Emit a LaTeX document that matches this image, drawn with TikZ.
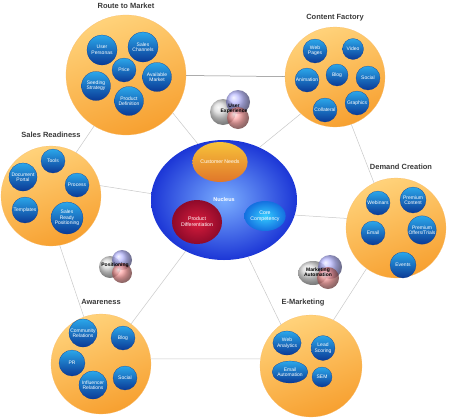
\documentclass[tikz,border=0pt]{standalone}
\usepackage{fontspec}
\setmainfont{Liberation Sans}
\usepackage{tikz}
\usetikzlibrary{positioning,shapes.geometric,shadings}

\definecolor{orangetop}{HTML}{FFD27A}
\definecolor{orangebot}{HTML}{F7A030}
\definecolor{pilltop}{HTML}{2BA7EA}
\definecolor{pillbot}{HTML}{0A3A96}
\definecolor{nucin}{HTML}{7AAEFF}
\definecolor{nucout}{HTML}{1C36D6}
\definecolor{needtop}{HTML}{F7C23A}
\definecolor{needbot}{HTML}{E0762A}
\definecolor{prodin}{HTML}{D81C3C}
\definecolor{prodout}{HTML}{8E0A2A}
\definecolor{corein}{HTML}{34CCFF}
\definecolor{coreout}{HTML}{1470E0}
\definecolor{linkgray}{HTML}{C8C8C8}
\definecolor{titlegray}{HTML}{3A3A3A}
\definecolor{vgray}{HTML}{D0D0D0}
\definecolor{vblue}{HTML}{A8A8FF}
\definecolor{vred}{HTML}{FF9090}

\begin{document}
\begin{tikzpicture}[x=1pt,y=-1pt,
    bubble/.style={circle,draw=orangebot!70,very thin,top color=orangetop,
        bottom color=orangebot,shading angle=20,minimum size=#1,inner sep=0pt},
    pill/.style={circle,draw=pillbot,very thin,top color=pilltop,bottom color=pillbot,
        text=white,minimum size=#1,inner sep=0pt,align=center,
        font=\fontsize{5}{5.4}\selectfont},
    vball/.style={circle,inner sep=0pt,minimum size=#1,fill opacity=0.8}]
        \tikzstyle{title}=[font=\fontsize{7.5}{8}\selectfont\bfseries,text=titlegray,inner sep=1pt]
        \tikzstyle{link}=[draw=linkgray,line width=0.5pt]
        \tikzstyle{core}=[ellipse,inner sep=0pt,text=white,align=center,
            font=\fontsize{5.2}{5.8}\selectfont]
        \tikzstyle{venntext}=[align=center,inner sep=0pt,
            font=\fontsize{5}{5.4}\selectfont\bfseries]

        \useasboundingbox (0,0) rectangle (449,418);

        % outer circles
        \node[bubble=120] (route) at (126,75) {};
        \node[bubble=100] (content) at (335,77) {};
        \node[bubble=100] (sales) at (51,196) {};
        \node[bubble=100] (demand) at (396,228) {};
        \node[bubble=100] (aware) at (101,364) {};
        \node[bubble=102] (emkt) at (311,366) {};
        \node[core,minimum width=146,minimum height=120,inner color=nucin,
            outer color=nucout,font=\fontsize{5.5}{6}\selectfont\bfseries] (nucleus) at (224,200) {Nucleus};

        \node[title,above=5pt of route] (routetitle) {Route to Market};
        \node[title,above=5pt of content] (contenttitle) {Content Factory};
        \node[title,above=7pt of sales] (salestitle) {Sales Readiness};
        \node[title,above=7pt of demand,xshift=5pt] (demandtitle) {Demand Creation};
        \node[title,above=8pt of aware] (awaretitle) {Awareness};
        \node[title,above=8pt of emkt,xshift=-8pt] (emkttitle) {E-Marketing};

        % links
        \path[link,draw=gray] (route) edge (content);
        \path[link] (route.-39) edge (nucleus.115);
        \path[link] (route.238) edge (sales.60);
        \path[link] (content.227) edge (nucleus.56);
        \path[link] (content.-71) edge (demand.116);
        \path[link] (sales.12) edge (nucleus.175);
        \path[link] (sales.-80) edge (aware.110);
        \path[link] (nucleus) edge (aware);
        \path[link] (nucleus.-67) edge (emkt.126);
        \path[link] (nucleus.-12) edge (demand.169);
        \path[link] (demand.234) edge (emkt.64);
        \path[link] (aware.6) edge (emkt.172);

        % nucleus
        \node[core,minimum width=46,minimum height=40,top color=needtop,
            bottom color=needbot] (needs) at (220,162) {Customer Needs};
        \node[core,minimum width=50,minimum height=44,inner color=prodin,
            outer color=prodout] (proddiff) at (197,222) {Product\\Differentiation};
        \node[core,minimum width=40,minimum height=30,inner color=corein,
            outer color=coreout] (corecomp) at (265,216) {Core\\Competency};

        % route to market
        \node[pill=30] (persona) at (102,50) {User\\Personas};
        \node[pill=30] (channel) at (143,47) {Sales\\Channels};
        \node[pill=24] (price) at (124,70) {Price};
        \node[pill=29] (market) at (157,77) {Available\\Market};
        \node[pill=29] (seeding) at (96,86) {Seeding\\Strategy};
        \node[pill=29] (proddef) at (129,101) {Product\\Definition};

        % content factory
        \node[pill=24] (webpage) at (315,51) {Web\\Pages};
        \node[pill=21] (video) at (353,49) {Video};
        \node[pill=22] (blog) at (337,75) {Blog};
        \node[pill=24] (anim) at (307,80) {Animation};
        \node[pill=24] (social) at (368,78) {Social};
        \node[pill=24] (collat) at (325,110) {Collateral};
        \node[pill=24] (graphic) at (357,103) {Graphics};

        % sales readiness
        \node[pill=24] (tools) at (53,161) {Tools};
        \node[pill=28] (portal) at (23,177) {Document\\Portal};
        \node[pill=24] (process) at (77,185) {Process};
        \node[pill=26] (templ) at (25,210) {Templates};
        \node[pill=32] (ready) at (67,218) {Sales\\Ready\\Positioning};

        % demand creation
        \node[pill=24] (webinar) at (378,203) {Webinars};
        \node[pill=26] (premium) at (413,200) {Premium\\Content};
        \node[pill=24] (email) at (373,233) {Email};
        \node[pill=28] (offers) at (422,230) {Premium\\Offers/Trials};
        \node[pill=26] (events) at (403,265) {Events};

        % awareness
        \node[pill=28] (community) at (83,333) {Community\\Relations};
        \node[pill=24] (awblog) at (123,338) {Blog};
        \node[pill=26] (pr) at (72,363) {PR};
        \node[pill=24] (awsocial) at (125,378) {Social};
        \node[pill=28] (influence) at (93,385) {Influencer\\Relations};

        % e-marketing
        \node[pill=1,ellipse,minimum width=28,minimum height=24] (analytics) at (287,343) {Web\\Analytics};
        \node[pill=1,ellipse,minimum width=22,minimum height=25] (scoring) at (323,348) {Lead\\Scoring};
        \node[pill=1,ellipse,minimum width=32,minimum height=22] (emailauto) at (290,372) {Email\\Automation};
        \node[pill=20] (sem) at (322,377) {SEM};

        % user experience
        \node[vball=26,ball color=vgray] (uxgray) at (223,112) {};
        \node[vball=24,ball color=vblue] (uxblue) at (238,102) {};
        \node[vball=22,ball color=vred] (uxred) at (238,118) {};
        \node[venntext] (ux) at (234,109) {User\\Experience};

        % positioning
        \node[vball=22,ball color=vgray] (posgray) at (110,267) {};
        \node[vball=20,ball color=vblue] (posblue) at (122,260) {};
        \node[vball=20,ball color=vred] (posred) at (122,273) {};
        \node[venntext] (posn) at (115,265) {Positioning};

        % marketing automation
        \node[vball=1,ellipse,minimum width=30,minimum height=24,ball color=vgray] (magray) at (313,273) {};
        \node[vball=24,ball color=vblue] (mablue) at (330,267) {};
        \node[vball=22,ball color=vred] (mared) at (328,278) {};
        \node[venntext] (mauto) at (318,272) {Marketing\\Automation};
    \end{tikzpicture}
\end{document}
